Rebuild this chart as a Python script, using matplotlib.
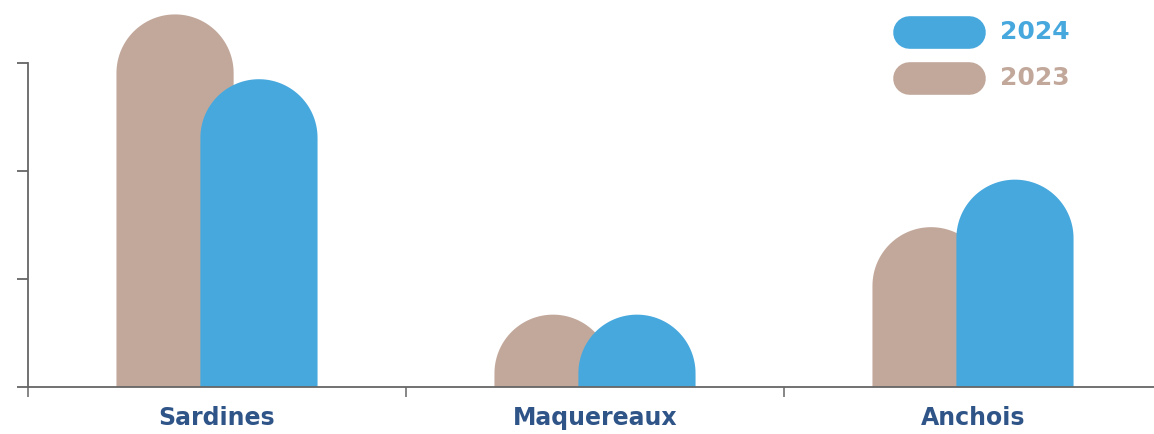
import numpy as np
import matplotlib
matplotlib.use("Agg")
import matplotlib.pyplot as plt
from matplotlib.patches import Polygon
from matplotlib.lines import Line2D

# data (thousands)
categories = ["Sardines", "Maquereaux", "Anchois"]
years = ["2023", "2024"]
values_2023 = [34.5, 6.7, 14.8]
values_2024 = [28.5, 6.7, 19.2]
y_ticks = [0, 10, 20, 30]

COL_2023 = "#C2A89B"
COL_2024 = "#47A8DE"
LABEL_COL = "#2F5487"
AXIS_COL = "#666666"

W, H, DPI = 1154, 434, 100
fig = plt.figure(figsize=(W / DPI, H / DPI), dpi=DPI)
ax = fig.add_axes([28 / W, 47 / H, 1134 / W, 324 / H])
ax.set_xlim(-0.5, 2.5)
ax.set_ylim(0, 30)

bar_w = 0.31
offset = 0.111


def rounded_bar(ax, x, h, w, color, z):
    """bar with a semicircle top (round in pixels, not in data units)"""
    px_per_x = ax.bbox.width / (ax.get_xlim()[1] - ax.get_xlim()[0])
    px_per_y = ax.bbox.height / (ax.get_ylim()[1] - ax.get_ylim()[0])
    r_px = w * px_per_x / 2
    r_y = r_px / px_per_y
    cy = max(h - r_y, 0)
    t = np.linspace(0, np.pi, 60)
    arc_x = x + (w / 2) * np.cos(t)
    arc_y = cy + r_y * np.sin(t)
    arc_y = np.maximum(arc_y, 0)
    xs = np.concatenate([[x + w / 2], arc_x, [x - w / 2]])
    ys = np.concatenate([[0], arc_y, [0]])
    poly = Polygon(np.column_stack([xs, ys]), closed=True, facecolor=color,
                   edgecolor="none", clip_on=False, zorder=z)
    ax.add_patch(poly)


for i in range(len(categories)):
    rounded_bar(ax, i - offset, values_2023[i], bar_w, COL_2023, 2)
    rounded_bar(ax, i + offset, values_2024[i], bar_w, COL_2024, 3)

# axes styling
for s in ["top", "right"]:
    ax.spines[s].set_visible(False)
for s in ["left", "bottom"]:
    ax.spines[s].set_color(AXIS_COL)
    ax.spines[s].set_linewidth(1.3)
    ax.spines[s].set_zorder(5)

ax.set_yticks(y_ticks)
ax.set_yticklabels([])
ax.tick_params(axis="y", length=8, width=1.3, color=AXIS_COL)

ax.set_xticks([-0.5, 0.5, 1.5, 2.5])
ax.set_xticklabels([])
ax.tick_params(axis="x", which="major", length=7, width=1.1, color=AXIS_COL)
ax.set_xticks(range(len(categories)), minor=True)
ax.set_xticklabels(categories, minor=True, fontsize=17, fontweight="bold",
                   color=LABEL_COL)
ax.tick_params(axis="x", which="minor", length=0, pad=14)

# legend as pills
legend_items = [("2024", COL_2024, 32), ("2023", COL_2023, 78)]
for lab, col, ypix in legend_items:
    yf = 1 - ypix / H
    fig.add_artist(Line2D([909 / W, 969 / W], [yf, yf], transform=fig.transFigure,
                          color=col, lw=23.5, solid_capstyle="round"))
    fig.text(1000 / W, yf, lab, color=col, fontsize=18, fontweight="bold",
             va="center", ha="left")

fig.savefig("out.png", dpi=DPI)
